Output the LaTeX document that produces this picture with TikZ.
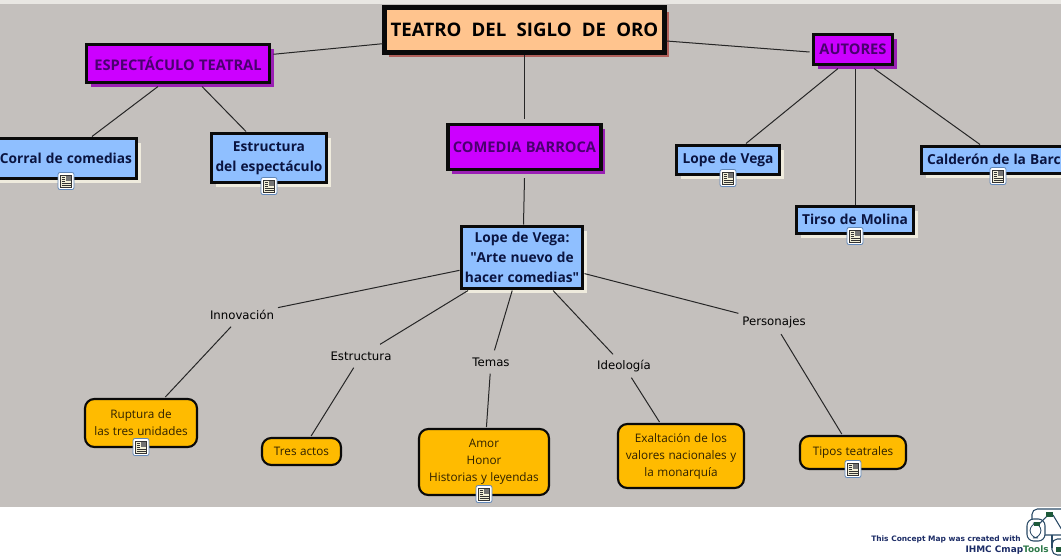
\documentclass[tikz,border=0pt]{standalone}
\usepackage{fontspec}
\setmainfont[WordSpace=1.15]{Open Sans}
\newfontfamily\plainfont[WordSpace=1.15]{Open Sans}
\newfontfamily\titlefont[WordSpace=2.1]{Open Sans}
\newfontfamily\labelfont{DejaVu Sans}
\newfontfamily\creditfont{DejaVu Sans}
\usetikzlibrary{shadows}
\definecolor{bggray}{HTML}{C4C0BD}
\definecolor{topstrip}{HTML}{E9E7E3}
\definecolor{titlefill}{HTML}{FFC48E}
\definecolor{titleshadow}{HTML}{B0605A}
\definecolor{magentafill}{HTML}{CC00FF}
\definecolor{magentashadow}{HTML}{9A20B4}
\definecolor{magentatext}{HTML}{4A0070}
\definecolor{bluefill}{HTML}{8FBFFF}
\definecolor{bluetext}{HTML}{0A1440}
\definecolor{creamshadow}{HTML}{EFEBDD}
\definecolor{orangefill}{HTML}{FFBB00}
\definecolor{orangetext}{HTML}{2E2000}
\definecolor{nearblack}{HTML}{0A0A0A}
\definecolor{iconedge}{HTML}{5F86B8}
\definecolor{iconpaper}{HTML}{F3F0D8}
\definecolor{creditnavy}{HTML}{1C2C66}
\definecolor{creditgreen}{HTML}{2F7A4A}
\definecolor{logogreen}{HTML}{1E5A3A}
\definecolor{logoedge}{HTML}{2A4A66}
\newcommand{\upby}[2]{\raisebox{#1}{#2}}
\tikzset{
  x=0.75pt,y=-0.75pt,
  boxbase/.style={draw=nearblack,align=center,inner sep=0pt,outer sep=1.5pt},
  titlebox/.style={boxbase,fill=titlefill,line width=3.75pt,text=black,font=\titlefont\fontsize{14}{17}\selectfont\bfseries,
    drop shadow={shadow xshift=3.6pt,shadow yshift=-3.6pt,opacity=1,fill=titleshadow}},
  magentabox/.style={boxbase,fill=magentafill,line width=2.4pt,text=magentatext,font=\fontsize{11}{13}\selectfont\bfseries,outer sep=3pt,
    drop shadow={shadow xshift=3.2pt,shadow yshift=-3.2pt,opacity=1,fill=magentashadow}},
  bluebox/.style={boxbase,fill=bluefill,line width=2.4pt,text=bluetext,font=\fontsize{10.3}{15.2}\selectfont\bfseries,
    drop shadow={shadow xshift=3.2pt,shadow yshift=-3.2pt,opacity=1,fill=creamshadow}},
  orangebox/.style={boxbase,fill=orangefill,line width=1.6pt,rounded corners=7pt,text=orangetext,font=\fontsize{8.8}{12.8}\selectfont},
  linklabel/.style={inner sep=1pt,outer sep=2pt,text=black,font=\labelfont\fontsize{8.8}{11}\selectfont,minimum height=18*0.75pt},
  link/.style={draw=black!85,line width=0.75pt},
  docicon/.pic={
    \draw[iconedge,fill=white,line width=0.6pt,rounded corners=1.5pt] (-8,-8.5) rectangle (8,8.5);
    \draw[black!80,fill=iconpaper,line width=0.6pt] (-5.5,-6) rectangle (5.5,6);
    \fill[black!55] (0,-5) rectangle (4.5,0);
    \foreach \yy in {-4,-2,0}{\draw[black!80,line width=0.5pt] (-4.5,\yy) -- (-1,\yy);}
    \foreach \yy in {2,4}{\draw[black!80,line width=0.5pt] (-4.5,\yy) -- (4.5,\yy);}
  }
}
\begin{document}
\begin{tikzpicture}
\useasboundingbox (0,0) rectangle (1061,557);
\clip (0,0) rectangle (1061,557);
\fill[white] (0,0) rectangle (1061,557);
\fill[topstrip] (0,0) rectangle (1061,4);
\fill[bggray] (0,4) rectangle (1061,507);

% concept nodes
\node[titlebox,minimum width=280*0.75pt,minimum height=45*0.75pt] (title) at (524.5,30) {TEATRO DEL SIGLO DE ORO};
\node[magentabox,minimum width=183*0.75pt,minimum height=38*0.75pt] (espect) at (178,63.5) {ESPECTÁCULO TEATRAL};
\node[magentabox,minimum width=153*0.75pt,minimum height=45*0.75pt,outer sep=4.5pt] (comedia) at (524.5,147) {COMEDIA BARROCA};
\node[magentabox,minimum width=79*0.75pt,minimum height=30*0.75pt] (autores) at (853,49.5) {AUTORES};
\node[bluebox,minimum width=141*0.75pt,minimum height=40*0.75pt] (corral) at (66,158.5) {Corral de comedias};
\node[bluebox,minimum width=115*0.75pt,minimum height=49*0.75pt] (estruct) at (269,158) {Estructura\\del espectáculo};
\node[bluebox,minimum width=103*0.75pt,minimum height=29*0.75pt] (lope) at (728,160) {\upby{1pt}{Lope de Vega}};
\node[bluebox,minimum width=117*0.75pt,minimum height=27*0.75pt] (tirso) at (855,220) {\upby{1.4pt}{Tirso de Molina}};
\node[bluebox,minimum width=153*0.75pt,minimum height=27*0.75pt] (calderon) at (998,160) {\upby{1.4pt}{Calderón de la Barca}};
\node[bluebox,minimum width=121*0.75pt,minimum height=62*0.75pt] (arte) at (522,257.5) {Lope de Vega:\\{\plainfont"}Arte nuevo de\\hacer comedias{\plainfont"}};
\node[orangebox,minimum width=112*0.75pt,minimum height=48*0.75pt] (ruptura) at (141,423) {\upby{0.7pt}{Ruptura de}\\\upby{0.7pt}{las tres unidades}};
\node[orangebox,minimum width=79*0.75pt,minimum height=27*0.75pt] (tres) at (301.5,451.5) {Tres actos};
\node[orangebox,minimum width=130*0.75pt,minimum height=66*0.75pt] (amor) at (484,462) {\upby{1.5pt}{Amor}\\\upby{1.5pt}{Honor}\\\upby{1.5pt}{Historias y leyendas}};
\node[orangebox,minimum width=126*0.75pt,minimum height=64*0.75pt] (exalt) at (681,456) {\upby{-0.8pt}{Exaltación de los}\\\upby{-0.8pt}{valores nacionales y}\\\upby{-0.8pt}{la monarquía}};
\node[orangebox,minimum width=106*0.75pt,minimum height=33*0.75pt] (tipos) at (853,452.5) {Tipos teatrales};

% link labels
\node[linklabel] (innov) at (242,315) {Innovación};
\node[linklabel] (lestr) at (361,356) {Estructura};
\node[linklabel] (ltemas) at (491,362) {Temas};
\node[linklabel] (lideo) at (624,366) {Ideología};
\node[linklabel] (lpers) at (774,322.5) {Personajes};

% connectors
\draw[link] (title) -- (espect);
\draw[link] ([yshift=-11*0.75pt]title.east) -- ([yshift=-2.5*0.75pt]autores.west);
\draw[link] (title) -- (comedia);
\draw[link] ([yshift=-2pt]comedia.south) -- ([xshift=1.5*0.75pt]arte.north);
\draw[link] ([xshift=-20*0.75pt]espect.south) -- ([xshift=26*0.75pt]corral.north);
\draw[link] ([xshift=24*0.75pt]espect.south) -- ([xshift=-23*0.75pt]estruct.north);
\draw[link] ([xshift=-15*0.75pt]autores.south) -- ([xshift=18*0.75pt]lope.north);
\draw[link] ([xshift=2.5*0.75pt]autores.south) -- ([xshift=0.5*0.75pt]tirso.north);
\draw[link] ([xshift=21*0.75pt]autores.south) -- ([xshift=-18*0.75pt]calderon.north);
\draw[link] (arte) -- (innov);
\draw[link] (innov) -- (ruptura);
\draw[link] (arte) -- (lestr);
\draw[link] (lestr) -- (tres);
\draw[link] (arte) -- (ltemas);
\draw[link] (ltemas) -- (amor);
\draw[link] (arte) -- (lideo);
\draw[link] (lideo) -- (exalt);
\draw[link] (arte) -- (lpers);
\draw[link] (lpers) -- (tipos);

% resource icons
\pic at (66,181) {docicon};
\pic at (269,186) {docicon};
\pic at (728,178) {docicon};
\pic at (855,236) {docicon};
\pic at (998,176) {docicon};
\pic at (141,447) {docicon};
\pic at (484,494) {docicon};
\pic at (853,469) {docicon};

% credit
\node[anchor=east,inner sep=0pt,text=creditnavy,font=\creditfont\bfseries\fontsize{5.6}{7}\selectfont] (credit1) at (1021,539.5) {This Concept Map was created with};
\node[anchor=east,inner sep=0pt,font=\creditfont\bfseries\fontsize{6.7}{8}\selectfont] (credit2) at (1049,550) {\textcolor{creditnavy}{IHMC Cmap}\textcolor{creditgreen}{Tools}};
\draw[logoedge,fill=white,line width=0.8pt,rounded corners=4pt] (1032,509) rectangle (1070,535);
\draw[logoedge,fill=white,line width=0.8pt,rounded corners=5pt] (1027,519) rectangle (1045,541);
\draw[logoedge,line width=0.6pt,rounded corners=6pt] (1030,523) rectangle (1041,538);
\draw[logoedge,line width=0.8pt,rounded corners=4pt] (1052,539) rectangle (1070,555);
\draw[logoedge,line width=0.8pt] (1052,535) -- (1052,548);
\draw[logoedge,line width=0.8pt] (1038,525) -- (1048,515);
\draw[logoedge,line width=0.8pt] (1053,515) -- (1062,530);
\fill[logogreen] (1046,512) rectangle (1053,516.5);
\fill[logogreen] (1034,522) rectangle (1040,525.5);
\fill[logogreen] (1056,547) rectangle (1061,552);
\end{tikzpicture}
\end{document}
